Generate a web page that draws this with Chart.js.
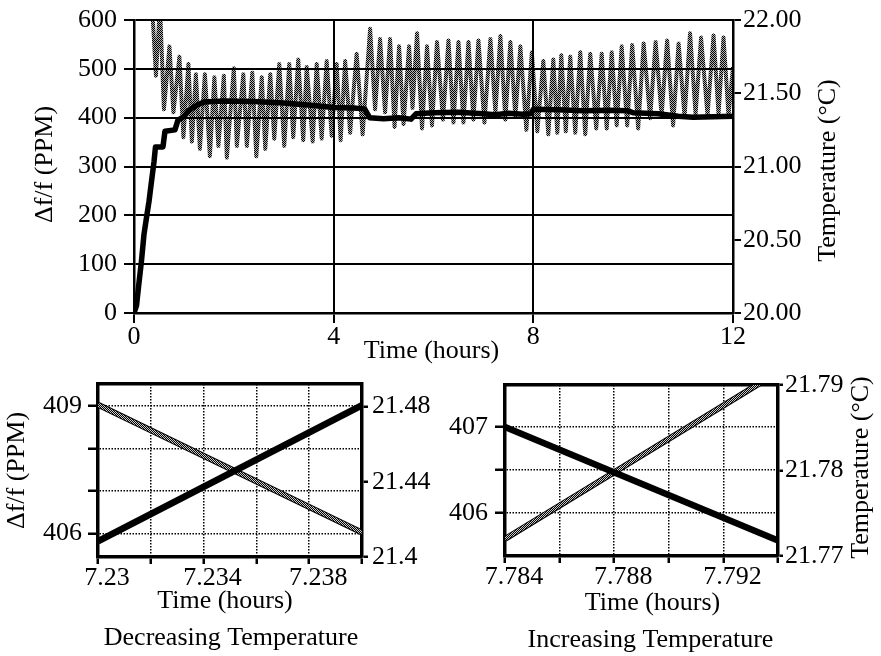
<!DOCTYPE html>
<html>
<head>
<meta charset="utf-8">
<script src="https://cdn.jsdelivr.net/npm/chart.js@4"></script>
<style>
  html, body { margin: 0; padding: 0; background: #fff; }
  body { width: 881px; height: 656px; position: relative; overflow: hidden; }
  canvas { position: absolute; }
  #run { left: 0; top: 0; }
  #dec { left: 0; top: 365px; }
  #inc { left: 440px; top: 365px; }
</style>
</head>
<body>
<canvas id="run" width="881" height="370"></canvas>
<canvas id="dec" width="440" height="291"></canvas>
<canvas id="inc" width="441" height="291"></canvas>
<script>
// --- 12 hour run: frequency shift (left axis) and temperature (right axis) ---
const runHours = [0, 0.05, 0.09, 0.15, 0.2, 0.25, 0.3, 0.35, 0.4, 0.43,
    0.58, 0.62, 0.82, 0.88, 1.0, 1.1, 1.25, 1.4, 1.8, 2.4,
    3.0, 3.6, 4.0, 4.4, 4.62, 4.72, 5.0, 5.3, 5.55, 5.65,
    6.0, 6.5, 7.0, 7.23, 7.5, 7.79, 7.95, 8.0, 8.5, 9.0,
    9.5, 9.9, 10.0, 10.5, 10.9, 11.2, 11.6, 12.0];
const runPpm = [0, 15, 53, 107, 161, 195, 228, 269, 309, 340,
    340, 372, 375, 395, 402, 415, 425, 432, 434, 433,
    430, 425, 421, 420, 418, 400, 398, 400, 397, 408,
    410, 411, 408, 406, 409, 407, 408, 417, 416, 414,
    415, 414, 410, 408, 403, 401, 402, 403];

const tempHours = [0.28, 0.44, 0.52, 0.60,
    0.71, 0.79, 0.91, 0.99, 1.09, 1.16, 1.24, 1.32, 1.42, 1.52,
    1.61, 1.69, 1.80, 1.86, 2.00, 2.06, 2.19, 2.26, 2.37, 2.45,
    2.56, 2.63, 2.73, 2.81, 2.91, 3.01, 3.11, 3.19, 3.29, 3.39,
    3.46, 3.58, 3.66, 3.76, 3.86, 3.96, 4.06, 4.14, 4.23, 4.33,
    4.46, 4.58, 4.73, 4.83, 4.93, 5.03, 5.13, 5.22, 5.31, 5.40,
    5.51, 5.58, 5.67, 5.77, 5.87, 5.97, 6.07, 6.19, 6.30, 6.40,
    6.50, 6.60, 6.70, 6.80, 6.90, 7.02, 7.14, 7.24, 7.34, 7.44,
    7.54, 7.64, 7.74, 7.86, 7.97, 8.08, 8.20, 8.30, 8.40, 8.48,
    8.56, 8.65, 8.74, 8.84, 8.94, 9.04, 9.14, 9.26, 9.37, 9.47,
    9.57, 9.67, 9.77, 9.88, 9.98, 10.10, 10.21, 10.34, 10.45, 10.57,
    10.68, 10.80, 10.91, 11.03, 11.14, 11.25, 11.36, 11.49, 11.61, 11.71,
    11.81, 11.91, 12.0];
const tempC = [22.60, 21.62, 22.10, 21.39,
    21.82, 21.37, 21.75, 21.20, 21.70, 21.17, 21.63, 21.12, 21.63, 21.07,
    21.61, 21.14, 21.62, 21.06, 21.67, 21.14, 21.63, 21.14, 21.64, 21.07,
    21.61, 21.12, 21.63, 21.19, 21.70, 21.14, 21.70, 21.20, 21.73, 21.18,
    21.68, 21.17, 21.70, 21.19, 21.72, 21.21, 21.70, 21.18, 21.72, 21.23,
    21.77, 21.22, 21.94, 21.39, 21.87, 21.37, 21.87, 21.27, 21.82, 21.29,
    21.82, 21.40, 21.91, 21.26, 21.82, 21.28, 21.85, 21.32, 21.86, 21.30,
    21.85, 21.30, 21.85, 21.32, 21.86, 21.30, 21.87, 21.37, 21.89, 21.32,
    21.85, 21.34, 21.82, 21.25, 21.78, 21.24, 21.72, 21.22, 21.73, 21.23,
    21.76, 21.24, 21.75, 21.23, 21.78, 21.22, 21.77, 21.26, 21.77, 21.26,
    21.78, 21.28, 21.82, 21.28, 21.83, 21.26, 21.84, 21.33, 21.85, 21.35,
    21.86, 21.28, 21.84, 21.34, 21.91, 21.36, 21.88, 21.35, 21.895, 21.36,
    21.88, 21.35, 21.68];

const runHourTicks = [0, 4, 8, 12];
const runPpmTicks = [0, 100, 200, 300, 400, 500, 600];
const runTempTicks = [20, 20.5, 21, 21.5, 22];

// --- close-ups: one falling and one rising temperature stretch ---
const decHours = [7.23, 7.24];
const decPpm = [405.82, 409.02];
const decTempC = [21.481, 21.413];
const decHourTicks = [7.23, 7.232, 7.234, 7.236, 7.238, 7.24];
const decHourLabels = [7.23, 7.234, 7.238];
const decPpmTicks = [406, 407, 408, 409];
const decPpmLabels = [406, 409];
const decTempTicks = [21.4, 21.44, 21.48];

const incHours = [7.784, 7.794];
const incPpm = [407.0, 405.68];
const incTempC = [21.772, 21.7915];
const incHourTicks = [7.784, 7.786, 7.788, 7.79, 7.792, 7.794];
const incHourLabels = [7.784, 7.788, 7.792];
const incPpmTicks = [406, 406.5, 407];
const incPpmLabels = [406, 407];
const incTempTicks = [21.77, 21.78, 21.79];

// --- shared look ---
const FONT_FAMILY = "'Liberation Serif', 'Times New Roman', serif";
const FONT_SIZE = 26;
Chart.defaults.font.family = FONT_FAMILY;
Chart.defaults.font.size = FONT_SIZE;
Chart.defaults.font.lineHeight = 1;
Chart.defaults.color = '#000';
Chart.defaults.animation = false;
Chart.defaults.responsive = false;
Chart.defaults.plugins.legend.display = false;
Chart.defaults.plugins.tooltip.enabled = false;
Chart.defaults.elements.point.radius = 0;
Chart.defaults.elements.line.tension = 0;

const zip = (xs, ys) => xs.map((x, i) => ({ x, y: ys[i] }));

// Replace the generated ticks with a fixed list of values.
const fixedTicks = (values) => (scale) => { scale.ticks = values.map((value) => ({ value })); };
const onlyLabels = (labels) => (v) => (labels.includes(v) ? String(v) : '');

// 1px checkerboard, the halftone used for the temperature traces.
function checker(bg) {
    const c = document.createElement('canvas');
    c.width = 2;
    c.height = 2;
    const g = c.getContext('2d');
    if (bg) { g.fillStyle = bg; g.fillRect(0, 0, 2, 2); }
    g.fillStyle = '#000';
    g.fillRect(0, 0, 1, 1);
    g.fillRect(1, 1, 1, 1);
    return g.createPattern(c, 'repeat');
}

// Axis titles and captions, placed relative to the plot area.
const axisText = {
    id: 'axisText',
    afterDraw(chart, args, opts) {
        const { ctx, chartArea: a } = chart;
        ctx.save();
        ctx.fillStyle = '#000';
        ctx.font = `${FONT_SIZE}px ${FONT_FAMILY}`;
        ctx.textAlign = 'center';
        ctx.textBaseline = 'middle';
        for (const t of opts.items || []) {
            let x = (a.left + a.right) / 2;
            if (t.edge === 'left') x = a.left;
            if (t.edge === 'right') x = a.right;
            const y = t.vert ? (a.top + a.bottom) / 2 : a.bottom;
            ctx.save();
            ctx.translate(x + (t.dx || 0), y + (t.dy || 0));
            if (t.vert) ctx.rotate(-Math.PI / 2);
            ctx.fillText(t.text, 0, 0);
            ctx.restore();
        }
        ctx.restore();
    },
};

const solidGrid = (tickLength, extra) => ({ color: '#000', lineWidth: 2, tickLength, tickWidth: 2, ...extra });
const solidBorder = { color: '#000', width: 2.5 };

new Chart(document.getElementById('run'), {
    type: 'line',
    data: {
        datasets: [
            { data: zip(runHours, runPpm), yAxisID: 'y', borderColor: '#000', borderWidth: 5.5, borderJoinStyle: 'round' },
            { data: zip(tempHours, tempC), yAxisID: 'y2', borderColor: checker('rgba(0,0,0,0.3)'), borderWidth: 4, borderJoinStyle: 'round' },
        ],
    },
    options: {
        layout: { padding: { top: 16, left: 0, right: 0, bottom: 0 } },
        scales: {
            x: {
                type: 'linear', min: 0, max: 12,
                afterBuildTicks: fixedTicks(runHourTicks),
                afterFit: (s) => { s.height = 57; },
                grid: solidGrid(10),
                border: solidBorder,
                ticks: { padding: 1, autoSkip: false, maxRotation: 0, callback: (v) => String(v) },
            },
            y: {
                position: 'left', min: 0, max: 600,
                afterBuildTicks: fixedTicks(runPpmTicks),
                afterFit: (s) => { s.width = 134; },
                grid: solidGrid(10),
                border: solidBorder,
                ticks: { padding: 7, callback: (v) => String(v) },
            },
            y2: {
                position: 'right', min: 20, max: 22,
                afterBuildTicks: fixedTicks(runTempTicks),
                afterFit: (s) => { s.width = 148; },
                grid: solidGrid(8, { drawOnChartArea: false }),
                border: solidBorder,
                ticks: { padding: 2, callback: (v) => v.toFixed(2) },
            },
        },
        plugins: {
            axisText: {
                items: [
                    { text: 'Δf/f (PPM)', edge: 'left', vert: true, dx: -89, dy: -2 },
                    { text: 'Temperature (°C)', edge: 'right', vert: true, dx: 95, dy: 4 },
                    { text: 'Time (hours)', dx: -2, dy: 38 },
                ],
            },
        },
    },
    plugins: [axisText],
});

// One close-up panel: thick frame, dotted grid, black Δf/f line over a halftone temperature band.
function closeUp(id, cfg) {
    const frame = { color: '#000', width: 3.5, dash: [1.5, 1.5] };
    const ticksGrid = (tickLength, extra) => ({ color: '#000', lineWidth: 1.5, tickLength, tickWidth: 2.5, ...extra });
    return new Chart(document.getElementById(id), {
        type: 'line',
        data: {
            datasets: [
                { data: zip(cfg.hours, cfg.ppm), yAxisID: 'y', borderColor: '#000', borderWidth: 6.5 },
                { data: zip(cfg.hours, cfg.temp), yAxisID: 'y2', borderColor: checker('#ccc'), borderWidth: 4 },
                { data: zip(cfg.hours, cfg.temp), yAxisID: 'y2', borderColor: '#000', borderWidth: 6 },
            ],
        },
        options: {
            layout: { padding: { top: cfg.top, left: 0, right: 0, bottom: 0 } },
            scales: {
                x: {
                    type: 'linear', min: cfg.hourTicks[0], max: cfg.hourTicks[cfg.hourTicks.length - 1],
                    afterBuildTicks: fixedTicks(cfg.hourTicks),
                    afterFit: (s) => { s.height = cfg.bottomH; },
                    grid: ticksGrid(7),
                    border: frame,
                    ticks: { padding: 1, labelOffset: 9, autoSkip: false, maxRotation: 0, callback: onlyLabels(cfg.hourLabels) },
                },
                xTop: {
                    type: 'linear', position: 'top', display: true,
                    afterFit: (s) => { s.height = 0; },
                    grid: { display: false },
                    border: { color: '#000', width: 3.5 },
                    ticks: { display: false },
                },
                y: {
                    position: 'left', min: cfg.ppmRange[0], max: cfg.ppmRange[1],
                    afterBuildTicks: fixedTicks(cfg.ppmTicks),
                    afterFit: (s) => { s.width = cfg.leftW; },
                    grid: ticksGrid(10),
                    border: frame,
                    ticks: { padding: cfg.leftPad, callback: onlyLabels(cfg.ppmLabels) },
                },
                y2: {
                    position: 'right', min: cfg.tempRange[0], max: cfg.tempRange[1],
                    afterBuildTicks: fixedTicks(cfg.tempTicks),
                    afterFit: (s) => { s.width = cfg.rightW; },
                    grid: ticksGrid(cfg.rightTick, { drawOnChartArea: false }),
                    border: { color: '#000', width: 3.5 },
                    ticks: { padding: cfg.rightPad, callback: (v) => String(v) },
                },
            },
            plugins: { axisText: { items: cfg.text } },
        },
        plugins: [axisText],
    });
}

closeUp('dec', {
    hours: decHours, ppm: decPpm, temp: decTempC,
    hourTicks: decHourTicks, hourLabels: decHourLabels,
    ppmTicks: decPpmTicks, ppmLabels: decPpmLabels, ppmRange: [405.45, 409.52],
    tempTicks: decTempTicks, tempRange: [21.4, 21.492],
    top: 15, bottomH: 99, leftW: 98, rightW: 78, leftPad: 6, rightTick: 6, rightPad: 4,
    text: [
        { text: 'Δf/f (PPM)', edge: 'left', vert: true, dx: -81, dy: 0 },
        { text: 'Time (hours)', dx: -5, dy: 44 },
        { text: 'Decreasing Temperature', dx: 1, dy: 81 },
    ],
});

closeUp('inc', {
    hours: incHours, ppm: incPpm, temp: incTempC,
    hourTicks: incHourTicks, hourLabels: incHourLabels,
    ppmTicks: incPpmTicks, ppmLabels: incPpmLabels, ppmRange: [405.5, 407.49],
    tempTicks: incTempTicks, tempRange: [21.77, 21.79],
    top: 14, bottomH: 100, leftW: 65, rightW: 103, leftPad: 7, rightTick: 5, rightPad: 2,
    text: [
        { text: 'Temperature (°C)', edge: 'right', vert: true, dx: 83, dy: -3 },
        { text: 'Time (hours)', dx: 11, dy: 47 },
        { text: 'Increasing Temperature', dx: 9, dy: 84 },
    ],
});
</script>
</body>
</html>
